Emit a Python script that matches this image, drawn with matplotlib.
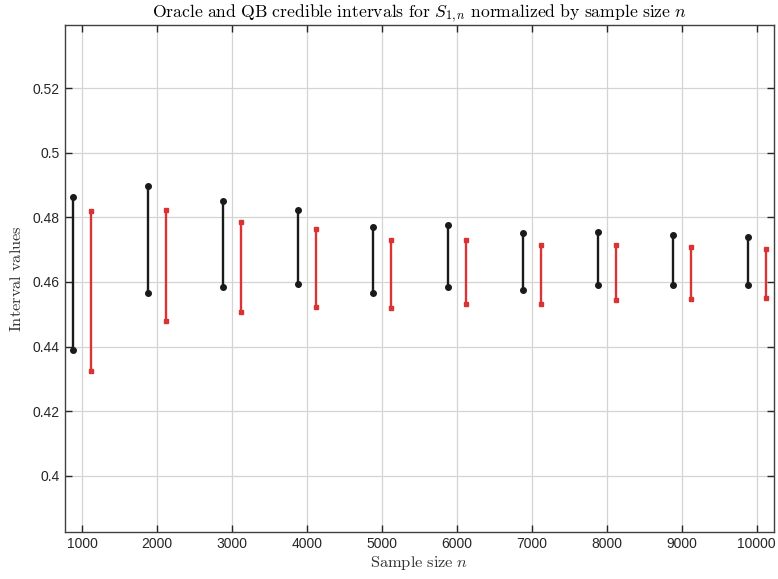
import numpy as np
import matplotlib
matplotlib.use("Agg")
import matplotlib.pyplot as plt
from matplotlib.ticker import FuncFormatter

# sample sizes
n = [1000, 2000, 3000, 4000, 5000, 6000, 7000, 8000, 9000, 10000]

# oracle intervals (black)
oracle_lo = [0.4389, 0.4565, 0.4584, 0.4594, 0.4565, 0.4584, 0.4575, 0.4590, 0.4590, 0.4590]
oracle_hi = [0.4862, 0.4897, 0.4850, 0.4823, 0.4771, 0.4775, 0.4750, 0.4755, 0.4746, 0.4740]

# QB intervals (red)
qb_lo = [0.4325, 0.4478, 0.4508, 0.4523, 0.4518, 0.4532, 0.4532, 0.4544, 0.4547, 0.4551]
qb_hi = [0.4820, 0.4823, 0.4786, 0.4763, 0.4731, 0.4729, 0.4714, 0.4714, 0.4708, 0.4703]

plt.rcParams['mathtext.fontset'] = 'cm'
plt.rcParams['font.family'] = ['Liberation Sans', 'DejaVu Sans']

fig = plt.figure(figsize=(7.78, 5.79), dpi=100)
ax = fig.add_axes([0.0832, 0.0807, 0.9117, 0.8766])

shift = 120
black = '#1a1a1a'
red = '#d93333'
for i in range(len(n)):
    ax.plot([n[i] - shift, n[i] - shift], [oracle_lo[i], oracle_hi[i]], '-o',
            color=black, lw=1.7, ms=4, zorder=3)
    ax.plot([n[i] + shift, n[i] + shift], [qb_lo[i], qb_hi[i]], '-s',
            color=red, lw=1.7, ms=3.3, zorder=3)

ax.set_xlim(765, 10230)
ax.set_ylim(0.3825, 0.5396)
ax.set_xticks(n)
ax.set_yticks(np.arange(0.40, 0.521, 0.02))
ax.yaxis.set_major_formatter(FuncFormatter(lambda v, p: '%g' % round(v, 2)))

ax.grid(True, color='#d4d4d4', lw=0.9)
ax.set_axisbelow(True)
ax.tick_params(direction='in', top=True, right=True, length=5, width=1,
               labelsize=10, colors='#262626', labelcolor='#262626')
for s in ax.spines.values():
    s.set_color('#404040')
    s.set_linewidth(1)

ax.set_title(r'$\mathrm{Oracle\ and\ QB\ credible\ intervals\ for\ }S_{1,n}'
             r'\mathrm{\ normalized\ by\ sample\ size\ }n$', fontsize=12.7, pad=5)
ax.set_xlabel(r'$\mathrm{Sample\ size\ }n$', fontsize=11.8, labelpad=2, color='#333333')
ax.set_ylabel(r'$\mathrm{Interval\ values}$', fontsize=11.8, labelpad=6, color='#333333')

fig.savefig('out.png', dpi=100)
